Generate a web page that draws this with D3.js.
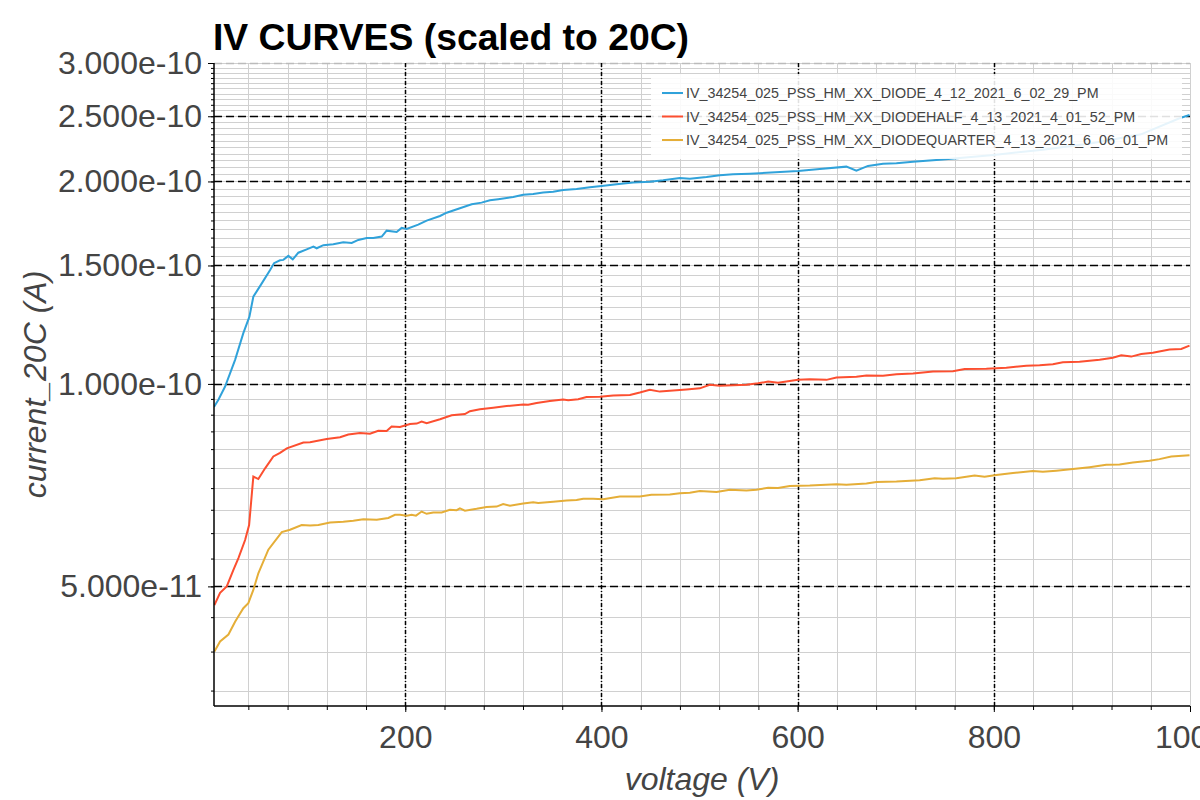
<!DOCTYPE html>
<html>
<head>
<meta charset="utf-8">
<script src="https://cdn.jsdelivr.net/npm/d3@7"></script>
<style>
  body { margin: 0; background: #fff; }
  svg { font-family: "Liberation Sans", Arial, sans-serif; }
</style>
</head>
<body>
<svg id="chart"></svg>
<script>
// currents are in units of 1e-11 A
var UNIT = 1e-11;

var seriesNames = [
  "IV_34254_025_PSS_HM_XX_DIODE_4_12_2021_6_02_29_PM",
  "IV_34254_025_PSS_HM_XX_DIODEHALF_4_13_2021_4_01_52_PM",
  "IV_34254_025_PSS_HM_XX_DIODEQUARTER_4_13_2021_6_06_01_PM"
];
var seriesColors = ["#30a2da", "#fc4f30", "#e5ae38"];

var diodeV = [5,9.5,16.3,26.5,34.9,41.1,45.1,53.7,62.2,66.2,72.3,75.7,80.8,85.3,91,99.5,106.3,109.7,116.5,126.6,
  136.8,145.4,152.1,160.7,167.4,176,181,191.2,196.3,201.4,213.2,221.8,235.4,242.2,255.7,267.7,277.8,286.3,294.7,310,
  320.2,330.4,340.6,350.8,361,374.6,388.2,400.1,415.4,432.3,449.3,462.9,479.9,490.1,507.1,520.6,534.2,551.2,561.4,600.4,
  622.6,649.7,659.9,671.7,687,700.7,717.6,731.2,744.8,800,850,900,950,989.3,999.5];
var diodeI = [9.24,9.47,9.91,10.86,11.9,12.59,13.48,14.11,14.77,15.12,15.27,15.29,15.5,15.32,15.67,15.85,16,15.91,16.08,16.13,
  16.24,16.2,16.37,16.48,16.48,16.56,16.9,16.82,17.06,17,17.25,17.49,17.77,17.97,18.25,18.5,18.6,18.75,18.82,18.96,
  19.11,19.16,19.25,19.31,19.42,19.49,19.61,19.69,19.81,19.92,19.98,20.08,20.24,20.19,20.31,20.43,20.5,20.54,20.57,20.73,
  20.87,21.04,20.75,21.09,21.25,21.28,21.4,21.47,21.55,21.9,22.3,22.8,23.5,24.83,25.11];

var halfV = [5.4,11.2,18,24.8,29.9,36.7,40.8,45.1,50.2,57.1,65.5,72.3,79.2,96.1,102.9,119.9,133.5,141.9,153.8,164,
  172.5,181,186.1,194.6,204.8,211.6,216.7,221.8,235.4,247.3,260.8,265.9,276.1,289.7,303.3,320.2,325.3,333.9,347.4,361,
  366.1,376.3,384.8,398.4,412,429,439.1,449.3,459.5,486.7,500.3,510.4,520.6,547.8,559.6,569.9,580,600.4,612.4,629.3,
  639.6,659.9,670.1,687,700.7,717.6,738,758.3,770.3,792.4,812.7,833.1,846.7,860.2,870.4,887.4,907.8,921.3,929.9,940.1,
  950.3,962.1,979.1,991.1,999.5];
var halfI = [4.69,4.89,5,5.29,5.51,5.86,6.17,7.28,7.22,7.49,7.8,7.9,8.02,8.18,8.19,8.28,8.33,8.41,8.45,8.43,
  8.52,8.51,8.64,8.63,8.72,8.73,8.79,8.74,8.86,8.98,9.02,9.11,9.17,9.22,9.27,9.32,9.31,9.37,9.43,9.48,
  9.46,9.49,9.56,9.57,9.61,9.63,9.71,9.8,9.74,9.81,9.85,9.97,9.94,9.97,10.02,10.08,10.04,10.14,10.16,10.14,
  10.22,10.25,10.29,10.28,10.34,10.36,10.43,10.44,10.52,10.53,10.57,10.64,10.66,10.7,10.77,10.79,10.86,10.94,11.03,10.98,
  11.08,11.13,11.25,11.27,11.4];

var quarterV = [5.4,11.2,19.7,26.5,34.9,40,45.1,50.2,60.4,74.1,82.5,94.4,102.9,111.4,123.3,136.8,147,157.2,170.9,182.7,
  189.5,194.6,201.4,206.5,210.9,216.7,221.8,228.5,237.1,245.5,252.4,255.7,260.8,272.7,282.9,293.1,299.8,306.7,320.2,330.4,
  335.5,350.8,364.4,374.6,381.4,391.5,401.7,418.7,439.1,451,469.7,479.9,490.1,500.3,517.3,530.9,547.8,558,569.9,580,
  592,612.4,639.6,649.7,670.1,680.3,700.7,724.4,739.7,748.1,761.8,780.4,790.6,802.5,819.5,839.8,850,863.7,880.6,897.6,
  914.6,928.2,941.7,958.7,968.9,980.9,999.5];
var quarterI = [4,4.14,4.24,4.43,4.64,4.72,4.94,5.23,5.67,6.02,6.07,6.17,6.16,6.17,6.22,6.24,6.26,6.29,6.28,6.32,
  6.39,6.39,6.37,6.39,6.37,6.46,6.41,6.44,6.44,6.5,6.49,6.53,6.48,6.52,6.56,6.57,6.63,6.59,6.64,6.67,
  6.65,6.68,6.71,6.72,6.75,6.75,6.74,6.8,6.8,6.84,6.85,6.88,6.89,6.93,6.91,6.96,6.94,6.96,7.01,7,
  7.05,7.06,7.09,7.08,7.11,7.15,7.16,7.19,7.24,7.23,7.24,7.31,7.28,7.32,7.37,7.42,7.4,7.43,7.47,7.52,
  7.58,7.59,7.64,7.69,7.73,7.8,7.83];

var majorYTicks = [5e-11, 1e-10, 1.5e-10, 2e-10, 2.5e-10, 3e-10];
var majorXTicks = [200, 400, 600, 800, 1000];

var titleText = "IV CURVES (scaled to 20C)";
var xLabel = "voltage (V)";
var yLabel = "current_20C (A)";

var makeSeries = function(vs, is)
{
  return vs.map(function(v, i) { return {v: v, i: is[i] * UNIT}; });
}

var allSeries = [makeSeries(diodeV, diodeI), makeSeries(halfV, halfI), makeSeries(quarterV, quarterI)];

var screen = {width: 1200, height: 800};
var margins = {top: 63, bottom: 94, left: 214, right: 10};
var graph = {
  width: screen.width - margins.left - margins.right,
  height: screen.height - margins.top - margins.bottom
};

var svg = d3.select("#chart")
  .attr("width", screen.width)
  .attr("height", screen.height);

var xScale = d3.scaleLinear()
  .domain([5, 1000])
  .range([0, graph.width]);

var yScale = d3.scaleLog()
  .domain([3.32e-11, 3e-10])
  .range([graph.height, 0]);

var plot = svg.append("g")
  .attr("transform", "translate(" + margins.left + "," + margins.top + ")");

svg.append("defs").append("clipPath").attr("id", "clip")
  .append("rect").attr("width", graph.width).attr("height", graph.height);

// minor grid, every 5e-12 A and every 40 V
var minorY = d3.range(35, 301, 5).map(function(d) { return d * 1e-12; });
var minorX = d3.range(40, 1001, 40);

var snap = function(p) { return Math.round(p) + 0.5; };

plot.append("g").selectAll("line")
  .data(minorY).enter().append("line")
  .attr("x1", 0).attr("x2", graph.width)
  .attr("y1", function(d) { return snap(yScale(d)); })
  .attr("y2", function(d) { return snap(yScale(d)); })
  .style("stroke", "#d0d0d0").style("stroke-width", 1);

plot.append("g").selectAll("line")
  .data(minorX).enter().append("line")
  .attr("x1", function(d) { return snap(xScale(d)); })
  .attr("x2", function(d) { return snap(xScale(d)); })
  .attr("y1", 0).attr("y2", graph.height)
  .style("stroke", "#d0d0d0").style("stroke-width", 1);

// major grid
plot.append("g").selectAll("line")
  .data(majorYTicks).enter().append("line")
  .attr("x1", 0).attr("x2", graph.width)
  .attr("y1", function(d) { return snap(yScale(d)); })
  .attr("y2", function(d) { return snap(yScale(d)); })
  .style("stroke", function(d) { return d >= 3e-10 ? "#bbb" : "#000"; })
  .style("stroke-width", 1.5)
  .style("stroke-dasharray", "8,4");

plot.append("g").selectAll("line")
  .data(majorXTicks.filter(function(d) { return d < 1000; })).enter().append("line")
  .attr("x1", function(d) { return snap(xScale(d)); })
  .attr("x2", function(d) { return snap(xScale(d)); })
  .attr("y1", 0).attr("y2", graph.height)
  .style("stroke", "#000").style("stroke-width", 1.5)
  .style("stroke-dasharray", "4,2,1,2");

// curves
var line = d3.line()
  .x(function(d) { return xScale(d.v); })
  .y(function(d) { return yScale(d.i); });

plot.append("g").attr("clip-path", "url(#clip)")
  .selectAll("path")
  .data(allSeries).enter().append("path")
  .attr("d", line)
  .style("fill", "none")
  .style("stroke", function(d, i) { return seriesColors[i]; })
  .style("stroke-width", 2);

// axes
var yAxis = d3.axisLeft(yScale)
  .tickValues(majorYTicks)
  .tickFormat(d3.format(".3e"))
  .tickSize(6).tickPadding(6);
var yMinorAxis = d3.axisLeft(yScale)
  .tickValues(minorY)
  .tickFormat("").tickSize(3);

var xAxis = d3.axisBottom(xScale)
  .tickValues(majorXTicks)
  .tickFormat(d3.format("d"))
  .tickSize(6).tickPadding(13);
var xMinorAxis = d3.axisBottom(xScale)
  .tickValues(minorX).tickFormat("").tickSize(4);

plot.append("g").call(yMinorAxis).select(".domain").remove();
plot.append("g").attr("transform", "translate(0," + graph.height + ")").call(xMinorAxis).select(".domain").remove();

var yg = plot.append("g").call(yAxis);
var xg = plot.append("g").attr("transform", "translate(0," + graph.height + ")").call(xAxis);

xg.select(".domain").attr("d", "M0,0H" + graph.width);
yg.select(".domain").attr("d", "M0,0V" + graph.height);
[yg, xg].forEach(function(g)
{
  g.select(".domain").style("stroke", "#000").style("stroke-width", 1.5);
  g.selectAll("text").style("font-size", "32px").style("fill", "#444");
});

// legend
var legend = svg.append("g").attr("transform", "translate(651,74)");
legend.append("rect")
  .attr("width", 531).attr("height", 85)
  .style("fill", "#fff").style("fill-opacity", 0.88);

var items = legend.selectAll("g.item")
  .data(seriesNames).enter().append("g")
  .attr("transform", function(d, i) { return "translate(0," + (19 + i * 23.5) + ")"; });
items.append("line")
  .attr("x1", 11).attr("x2", 32)
  .style("stroke", function(d, i) { return seriesColors[i]; })
  .style("stroke-width", 2);
items.append("text")
  .attr("x", 35).attr("dy", "0.35em")
  .style("font-size", "14.3px").style("fill", "#444")
  .text(function(d) { return d; });

// titles
svg.append("text")
  .attr("x", 213).attr("y", 50)
  .style("font-size", "37.3px").style("font-weight", "bold").style("fill", "#000")
  .text(titleText);

svg.append("text")
  .attr("x", margins.left + graph.width / 2).attr("y", 790)
  .attr("text-anchor", "middle")
  .style("font-size", "32px").style("font-style", "italic").style("fill", "#444")
  .text(xLabel);

svg.append("text")
  .attr("transform", "translate(46," + (margins.top + graph.height / 2) + ") rotate(-90)")
  .attr("text-anchor", "middle")
  .style("font-size", "32px").style("font-style", "italic").style("fill", "#444")
  .text(yLabel);
</script>
</body>
</html>
